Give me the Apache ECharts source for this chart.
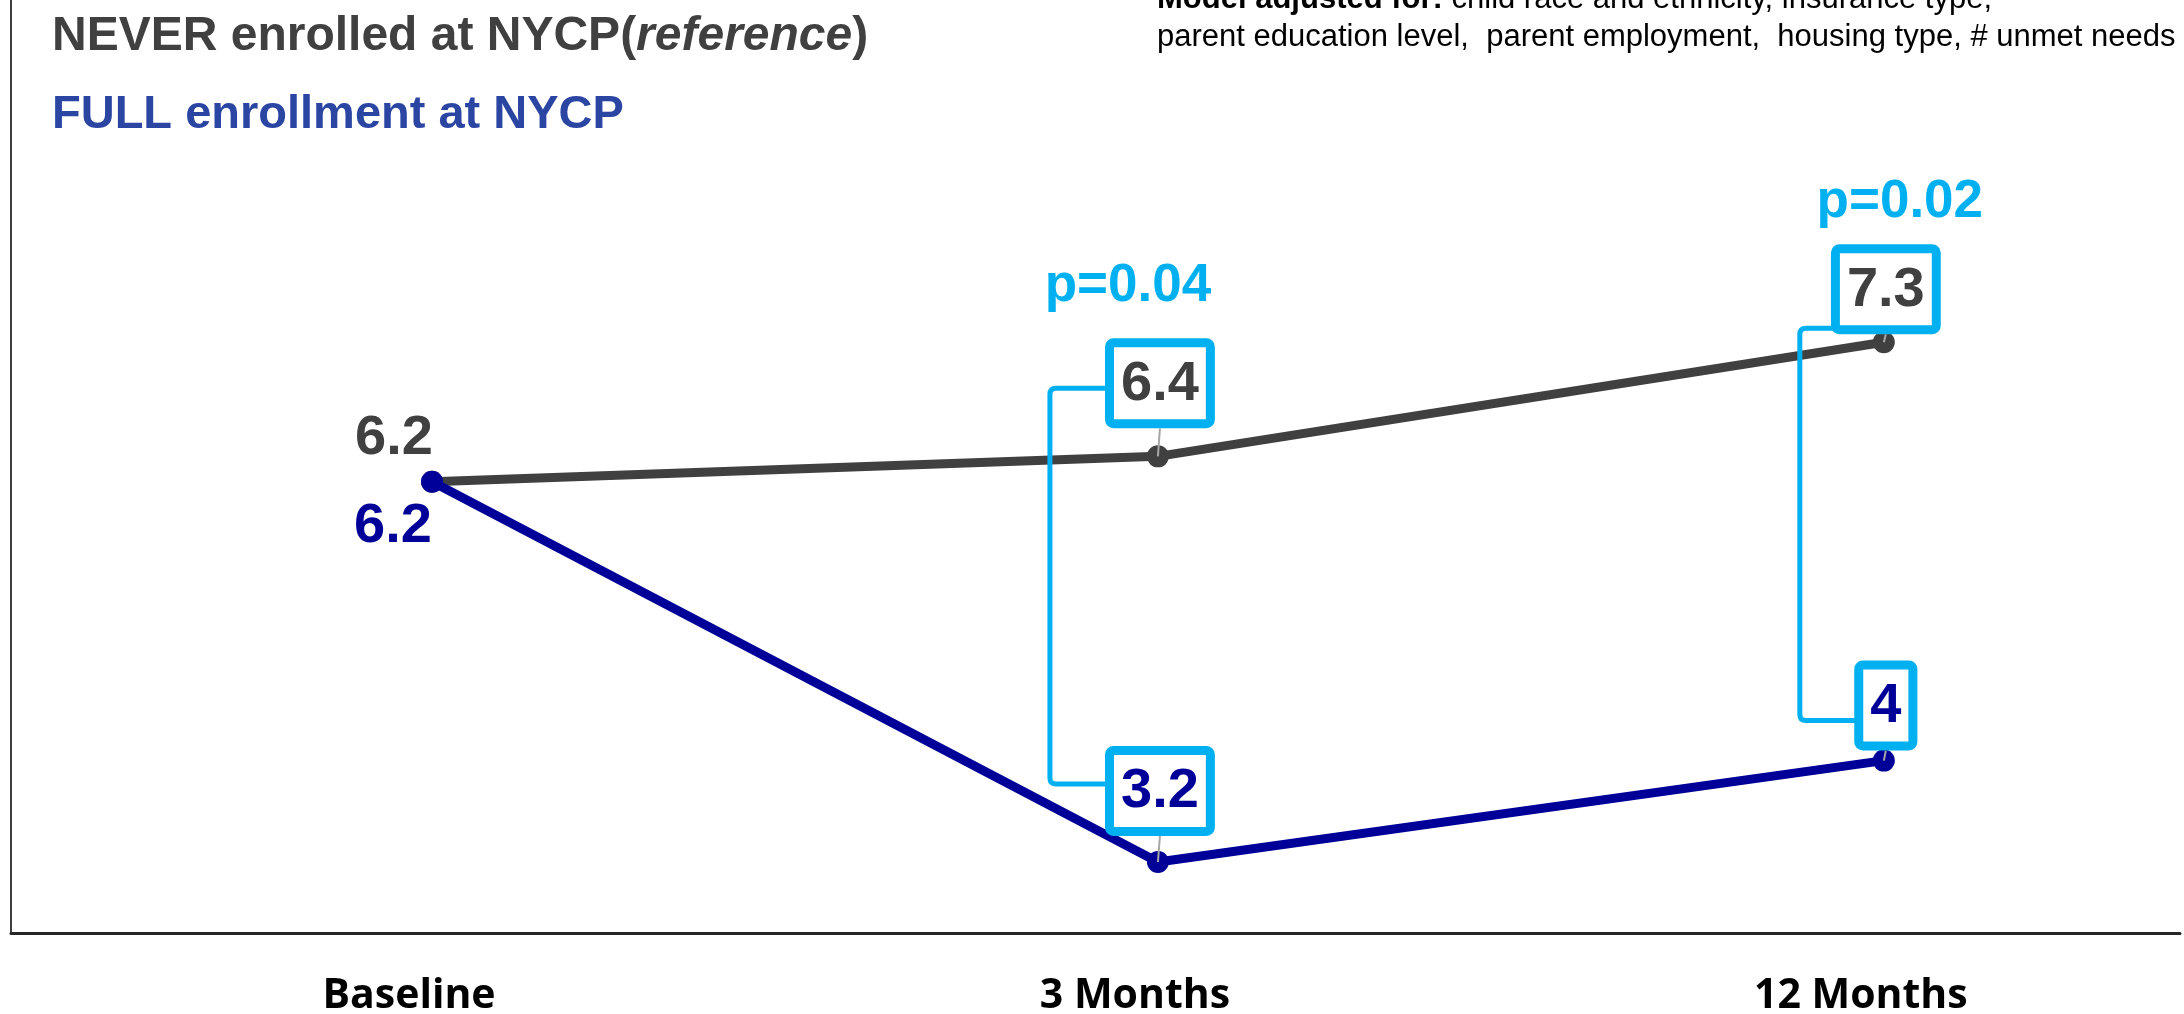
<!DOCTYPE html>
<html>
<head>
<meta charset="utf-8">
<script src="https://cdn.jsdelivr.net/npm/echarts@6/dist/echarts.min.js"></script>
<style>
  html, body { margin: 0; padding: 0; background: #ffffff; }
  #chart { width: 2184px; height: 1014px; }
</style>
</head>
<body>
<div id="chart"></div>
<script>
// Mean number of unmet needs over time by NYCP enrollment group
const timepoints = ['Baseline', '3 Months', '12 Months'];
const neverEnrolled = [6.2, 6.4, 7.3];
const fullEnrollment = [6.2, 3.2, 4];
const pValueLabels = ['', 'p=0.04', 'p=0.02'];

const GRAY = '#404040';
const NAVY = '#000099';
const CYAN = '#00B0F0';
const LEGEND_BLUE = '#2B45A3';
const NUM_FONT = '"Liberation Sans", Arial, sans-serif';

// Placement of the boxed comparison labels around each follow-up timepoint
const annotLayout = {
  1: { gapTop: 28, gapBottom: 26, bracketDx: -108, armTop: 50, armBottom: 38, pDx: -32, pDy: -52 },
  2: { gapTop: 8, gapBottom: 10, bracketDx: -84, armTop: 84, armBottom: 60, pDx: 14, pDy: -42 }
};

const measureCtx = document.createElement('canvas').getContext('2d');
function textWidth(str, font) {
  measureCtx.font = font;
  return measureCtx.measureText(str).width;
}

const BOX_H = 90;
const BOX_BORDER = 9;
const BOX_PAD = 7;
const VALUE_FONT = 'bold 56px ' + NUM_FONT;

function boxedValue(cx, bottom, value, color) {
  const txt = String(value);
  const w = textWidth(txt, VALUE_FONT) + 2 * BOX_PAD + 2 * BOX_BORDER;
  const left = cx - w / 2;
  const top = bottom - BOX_H;
  return {
    left, top, w,
    els: [
      {
        type: 'rect',
        shape: { x: left + BOX_BORDER / 2, y: top + BOX_BORDER / 2, width: w - BOX_BORDER, height: BOX_H - BOX_BORDER, r: 4 },
        style: { fill: '#ffffff', stroke: CYAN, lineWidth: BOX_BORDER }
      },
      {
        type: 'text',
        x: cx, y: top + BOX_H / 2 + 1,
        style: { text: txt, fill: color, font: VALUE_FONT, align: 'center', verticalAlign: 'middle' }
      }
    ]
  };
}

function bracketPath(x, y1, y2, x1End, x2End) {
  const r = 6;
  return 'M ' + x1End + ' ' + y1 +
    ' L ' + (x + r) + ' ' + y1 +
    ' Q ' + x + ' ' + y1 + ' ' + x + ' ' + (y1 + r) +
    ' L ' + x + ' ' + (y2 - r) +
    ' Q ' + x + ' ' + y2 + ' ' + (x + r) + ' ' + y2 +
    ' L ' + x2End + ' ' + y2;
}

function renderComparison(params, api) {
  const idx = api.value(0);
  const layout = annotLayout[idx];
  const pN = api.coord([idx, api.value(1)]);
  const pF = api.coord([idx, api.value(2)]);
  const cx = pN[0] + 2;

  const topBox = boxedValue(cx, pN[1] - layout.gapTop, api.value(1), GRAY);
  const botBox = boxedValue(cx, pF[1] - layout.gapBottom, api.value(2), NAVY);

  const bx = pN[0] + layout.bracketDx;
  const yArmTop = topBox.top + layout.armTop;
  const yArmBot = botBox.top + layout.armBottom;

  const children = [];
  children.push({
    type: 'path',
    shape: { pathData: bracketPath(bx, yArmTop, yArmBot, topBox.left + 2, botBox.left + 2) },
    style: { fill: null, stroke: CYAN, lineWidth: 5 }
  });
  children.push.apply(children, topBox.els);
  children.push.apply(children, botBox.els);
  // thin leader lines from each box down to its point
  children.push({
    type: 'line',
    shape: { x1: cx, y1: topBox.top + BOX_H, x2: pN[0], y2: pN[1] },
    style: { stroke: '#A6A6A6', lineWidth: 2 }
  });
  children.push({
    type: 'line',
    shape: { x1: cx, y1: botBox.top + BOX_H, x2: pF[0], y2: pF[1] },
    style: { stroke: '#A6A6A6', lineWidth: 2 }
  });
  children.push({
    type: 'text',
    x: cx + layout.pDx,
    y: topBox.top + layout.pDy,
    style: { text: pValueLabels[idx], fill: CYAN, font: 'bold 53px ' + NUM_FONT, align: 'center', verticalAlign: 'middle' }
  });
  return { type: 'group', children };
}

const comparisonData = [1, 2].map(i => [i, neverEnrolled[i], fullEnrollment[i]]);

const baseLabel = {
  show: true,
  position: 'inside',
  fontFamily: NUM_FONT,
  fontWeight: 'bold',
  fontSize: 56
};

const chart = echarts.init(document.getElementById('chart'), null, { renderer: 'canvas' });

chart.setOption({
  backgroundColor: '#ffffff',
  animation: false,
  grid: { left: 11, right: 4, top: 0, bottom: 81, containLabel: false, outerBoundsMode: 'none' },
  xAxis: {
    type: 'value',
    min: -0.58,
    max: 2.408,
    axisLine: { show: true, onZero: false, lineStyle: { color: '#262626', width: 3 } },
    axisTick: { show: false },
    splitLine: { show: false },
    axisLabel: {
      customValues: [0, 1, 2],
      formatter: v => timepoints[v] || '',
      fontFamily: '"Open Sans", sans-serif',
      fontWeight: 'bold',
      fontSize: 41,
      lineHeight: 41,
      color: '#000000',
      margin: 43,
      padding: [0, 46, 0, 0]
    }
  },
  yAxis: {
    type: 'value',
    min: 2.64,
    max: 10.0,
    axisLine: { show: true, onZero: false, lineStyle: { color: GRAY, width: 2 } },
    axisTick: { show: false },
    axisLabel: { show: false },
    splitLine: { show: false }
  },
  graphic: [
    {
      type: 'text',
      x: 52, y: 37,
      style: {
        text: '{b|NEVER enrolled at NYCP(}{i|reference}{b|)}',
        verticalAlign: 'middle',
        rich: {
          b: { fontFamily: NUM_FONT, fontWeight: 'bold', fontSize: 48, fill: GRAY },
          i: { fontFamily: NUM_FONT, fontWeight: 'bold', fontStyle: 'italic', fontSize: 48, fill: GRAY }
        }
      }
    },
    {
      type: 'text',
      x: 52, y: 115,
      style: {
        text: 'FULL enrollment at NYCP',
        fill: LEGEND_BLUE,
        font: 'bold 47px ' + NUM_FONT,
        verticalAlign: 'middle'
      }
    },
    {
      type: 'text',
      x: 1157, y: -1,
      style: {
        text: '{b|Model adjusted for:}{r| child race and ethnicity, insurance type,}',
        verticalAlign: 'middle',
        rich: {
          b: { fontFamily: NUM_FONT, fontWeight: 'bold', fontSize: 31, fill: '#000000' },
          r: { fontFamily: NUM_FONT, fontSize: 31, fill: '#000000' }
        }
      }
    },
    {
      type: 'text',
      x: 1157, y: 37,
      style: {
        text: 'parent education level,  parent employment,  housing type, # unmet needs',
        fill: '#000000',
        font: '31px ' + NUM_FONT,
        verticalAlign: 'middle'
      }
    }
  ],
  series: [
    {
      name: 'NEVER enrolled at NYCP',
      type: 'line',
      symbol: 'circle',
      symbolSize: 22,
      lineStyle: { color: GRAY, width: 9 },
      itemStyle: { color: GRAY },
      label: { show: false },
      data: neverEnrolled.map((v, i) => i === 0
        ? { value: [i, v], label: Object.assign({}, baseLabel, { color: GRAY, offset: [-38, -43] }) }
        : [i, v]),
      z: 2
    },
    {
      name: 'FULL enrollment at NYCP',
      type: 'line',
      symbol: 'circle',
      symbolSize: 22,
      lineStyle: { color: NAVY, width: 9 },
      itemStyle: { color: NAVY },
      label: { show: false },
      data: fullEnrollment.map((v, i) => i === 0
        ? { value: [i, v], label: Object.assign({}, baseLabel, { color: NAVY, offset: [-39, 45] }) }
        : [i, v]),
      z: 3
    },
    {
      type: 'custom',
      renderItem: renderComparison,
      data: comparisonData,
      clip: false,
      silent: true,
      z: 5
    }
  ]
});
</script>
</body>
</html>
